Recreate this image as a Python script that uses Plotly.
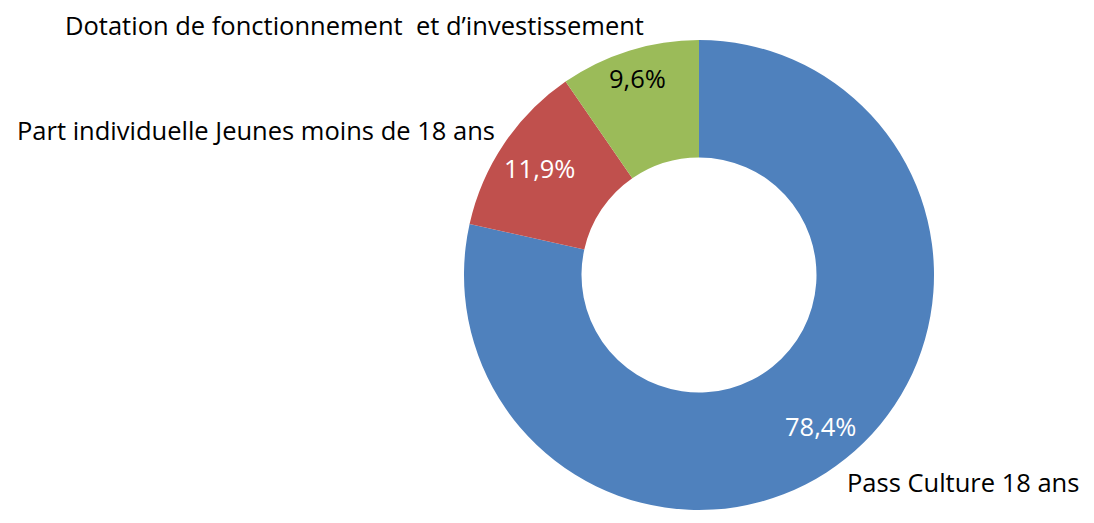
import math
import plotly.graph_objects as go

categories = ["Pass Culture 18 ans", "Part individuelle Jeunes moins de 18 ans",
              "Dotation de fonctionnement  et d\u2019investissement"]
values = [78.4, 11.9, 9.6]
pct_labels = ["78,4%", "11,9%", "9,6%"]
colors = ["#4F81BD", "#C0504D", "#9BBB59"]
text_colors = ["white", "white", "black"]

W, H = 1094, 523
OFF = 8  # page body margin
cx, cy, R = 699 - OFF, 275 - OFF, 235
FONT = "Open Sans"
FS = 25.5
label_r = [0.826, 0.817, 0.877]  # radial position of percent labels (fraction of R)

fig = go.Figure(go.Pie(
    labels=categories, values=values,
    textinfo="none",
    marker=dict(colors=colors, line=dict(width=0)),
    hole=0.5, sort=False, direction="clockwise", rotation=0,
    domain=dict(x=[(cx - R) / W, (cx + R) / W], y=[(H - cy - R) / H, (H - cy + R) / H]),
    showlegend=False, hoverinfo="label+percent",
))

# percent labels at slice mid-angles
total = sum(values)
cum = 0
for v, t, tc, rf in zip(values, pct_labels, text_colors, label_r):
    mid = (cum + v / 2) / total * 2 * math.pi
    cum += v
    px = cx + rf * R * math.sin(mid)
    py = cy - rf * R * math.cos(mid)
    fig.add_annotation(x=px / W, y=1 - py / H, xref="paper", yref="paper",
                       xanchor="center", yanchor="middle", text=t, showarrow=False,
                       font=dict(size=FS, color=tc, family=FONT))

font = dict(size=FS, color="black", family=FONT)
fig.add_annotation(x=(66 - OFF - 3) / W, y=1 - (25 - OFF) / H, xref="paper", yref="paper",
                   xanchor="left", yanchor="middle", text=categories[2], showarrow=False, font=font)
fig.add_annotation(x=(18 - OFF - 3) / W, y=1 - (130 - OFF) / H, xref="paper", yref="paper",
                   xanchor="left", yanchor="middle", text=categories[1], showarrow=False, font=font)
fig.add_annotation(x=(848 - OFF - 3) / W, y=1 - (482 - OFF) / H, xref="paper", yref="paper",
                   xanchor="left", yanchor="middle", text=categories[0], showarrow=False, font=font)

fig.update_layout(width=W, height=H, margin=dict(l=0, r=0, t=0, b=0),
                  paper_bgcolor="white", plot_bgcolor="white")
fig.write_html("out.html")
